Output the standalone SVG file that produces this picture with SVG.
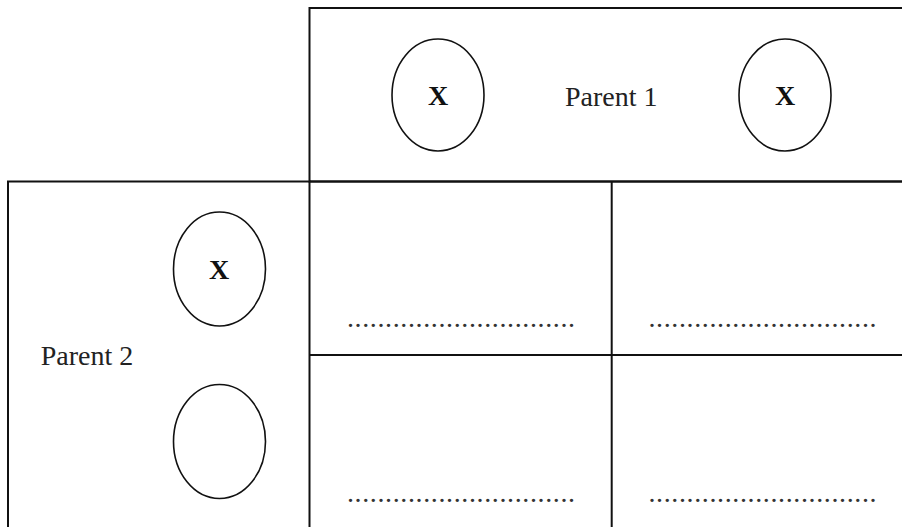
<svg xmlns="http://www.w3.org/2000/svg" width="902" height="527" viewBox="0 0 902 527">
<style>
.box{fill:none;stroke:#111;stroke-width:2}
.ell{fill:none;stroke:#111;stroke-width:1.6}
.lbl{font-family:"Liberation Serif","Times New Roman",serif;font-size:28px;fill:#222}
.x{font-family:"Liberation Serif","Times New Roman",serif;font-size:28px;font-weight:bold;fill:#111;text-anchor:middle}
.dots{font-family:"Liberation Serif","Times New Roman",serif;font-size:28px;fill:#333}
</style>
<rect width="902" height="527" fill="#fff"/>
<g id="parent1">
<rect class="box" x="309.5" y="8" width="620" height="173.5"/>
<text class="lbl" x="565" y="106">Parent 1</text>
</g>
<g id="p1-allele1">
<ellipse class="ell" cx="438" cy="95" rx="46" ry="56"/>
<text class="x" x="438" y="105">X</text>
</g>
<g id="p1-allele2">
<ellipse class="ell" cx="785" cy="95" rx="46" ry="56"/>
<text class="x" x="785" y="105">X</text>
</g>
<g id="parent2">
<rect class="box" x="8" y="181.5" width="301.5" height="360"/>
<text class="lbl" x="40.7" y="365">Parent 2</text>
</g>
<g id="p2-allele1">
<ellipse class="ell" cx="219.5" cy="269" rx="46" ry="57"/>
<text class="x" x="219" y="279">X</text>
</g>
<g id="p2-allele2">
<ellipse class="ell" cx="219.5" cy="441.5" rx="46" ry="57"/>
</g>
<g id="grid">
<line class="box" x1="309.5" y1="181.5" x2="910" y2="181.5"/>
<line class="box" x1="611.7" y1="181.5" x2="611.7" y2="540"/>
<line class="box" x1="309.5" y1="355" x2="910" y2="355"/>
</g>
<g id="cell-1">
<text class="dots" x="347" y="327" textLength="228" lengthAdjust="spacing">..............................</text>
</g>
<g id="cell-2">
<text class="dots" x="648.5" y="327" textLength="228" lengthAdjust="spacing">..............................</text>
</g>
<g id="cell-3">
<text class="dots" x="347" y="502" textLength="228" lengthAdjust="spacing">..............................</text>
</g>
<g id="cell-4">
<text class="dots" x="648.5" y="502" textLength="228" lengthAdjust="spacing">..............................</text>
</g>
</svg>
